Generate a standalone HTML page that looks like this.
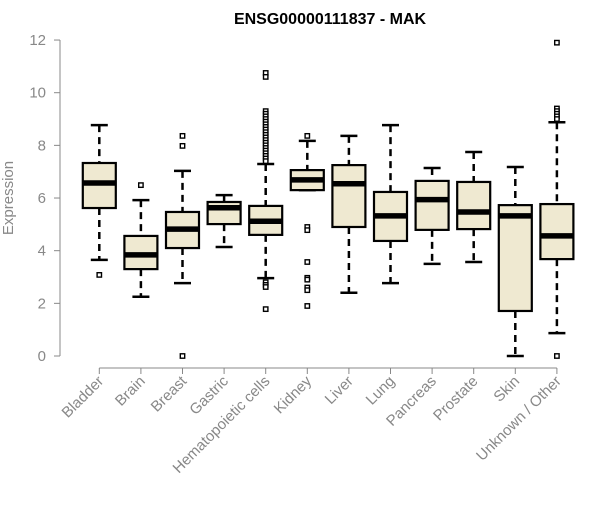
<!DOCTYPE html>
<html><head><meta charset="utf-8"><style>body{margin:0;background:#fff}</style></head>
<body>
<svg id="c" width="600" height="500" xmlns="http://www.w3.org/2000/svg" font-family="Liberation Sans, sans-serif"></svg>
<script>
const categories=["Bladder","Brain","Breast","Gastric","Hematopoietic cells","Kidney","Liver","Lung","Pancreas","Prostate","Skin","Unknown / Other"];
const lowerWhisker=[3.65,2.25,2.77,4.14,2.96,6.3,2.4,2.77,3.5,3.57,0.0,0.87];
const q1=[5.62,3.3,4.1,5.01,4.6,6.3,4.9,4.37,4.79,4.82,1.71,3.68];
const median=[6.57,3.84,4.82,5.63,5.12,6.69,6.54,5.32,5.94,5.47,5.32,4.56];
const q3=[7.33,4.56,5.47,5.85,5.7,7.06,7.25,6.23,6.65,6.61,5.73,5.77];
const upperWhisker=[8.77,5.92,7.03,6.11,7.29,8.17,8.36,8.77,7.14,7.75,7.18,8.88];
const outliers=[[3.08],[6.49],[8.36,7.98,0.0],[],
 [10.75,10.6,9.3,9.2,9.1,9.0,8.9,8.8,8.7,8.6,8.5,8.4,8.3,8.2,8.1,8.0,7.9,7.8,7.7,7.6,7.5,7.4,2.8,2.7,2.62,1.78],
 [8.36,4.9,4.78,3.57,2.97,2.9,2.6,2.5,1.9],[],[],[],[],[],[11.9,9.4,9.3,9.2,9.1,9.0,0.0]];
const yTicks=[0,2,4,6,8,10,12];
const NS="http://www.w3.org/2000/svg";
const svg=document.getElementById('c');
const y=v=>356-v*26.33;
const x=i=>99.3+i*41.6;
function mk(t,a,parent){const e=document.createElementNS(NS,t);for(const k in a)e.setAttribute(k,a[k]);(parent||svg).appendChild(e);return e;}
let t=mk('text',{x:330,y:24,'text-anchor':'middle','font-size':16,'font-weight':'bold',fill:'#000'});t.textContent="ENSG00000111837 - MAK";


let ya=mk('line',{x1:60,y1:y(0),x2:60,y2:y(12),stroke:'#888','stroke-width':1});


yTicks.forEach(v=>{
 const l=mk('line',{x1:54,x2:60,y1:y(v),y2:y(v),stroke:'#888'});
 
 
 const tx=mk('text',{x:46,y:y(v)+5,'text-anchor':'end','font-size':15,fill:'#888'});tx.textContent=v;
 
 
});
let yt=mk('text',{x:0,y:0,transform:'translate(13,198) rotate(-90)','text-anchor':'middle','font-size':15,fill:'#888'});yt.textContent="Expression";


let xa=mk('line',{x1:x(0),x2:x(11),y1:368,y2:368,stroke:'#888'});


categories.forEach((c,i)=>{
 const cx=x(i);
 const g=mk('g',{});
 
 
 const tk=mk('line',{x1:cx,x2:cx,y1:368,y2:374,stroke:'#888'});
 
 
 const lb=mk('text',{x:0,y:0,transform:`translate(${cx+5},382) rotate(-45)`,'text-anchor':'end','font-size':15,fill:'#888'});lb.textContent=c;
 
 
 mk('line',{x1:cx,x2:cx,y1:y(upperWhisker[i]),y2:y(q3[i]),stroke:'#000','stroke-width':2.5,'stroke-dasharray':'7,5'},g);
 mk('line',{x1:cx,x2:cx,y1:y(q1[i]),y2:y(lowerWhisker[i]),stroke:'#000','stroke-width':2.5,'stroke-dasharray':'7,5'},g);
 mk('line',{x1:cx-8.5,x2:cx+8.5,y1:y(upperWhisker[i]),y2:y(upperWhisker[i]),stroke:'#000','stroke-width':2.5},g);
 mk('line',{x1:cx-8.5,x2:cx+8.5,y1:y(lowerWhisker[i]),y2:y(lowerWhisker[i]),stroke:'#000','stroke-width':2.5},g);
 mk('rect',{x:cx-16.5,y:y(q3[i]),width:33,height:Math.max(1,y(q1[i])-y(q3[i])),fill:'#efe9d1',stroke:'#000','stroke-width':2.2},g);
 mk('line',{x1:cx-16.5,x2:cx+16.5,y1:y(median[i]),y2:y(median[i]),stroke:'#000','stroke-width':5.5},g);
 outliers[i].forEach(v=>mk('rect',{x:cx-2.2,y:y(v)-2.2,width:4.4,height:4.4,fill:'#fff',stroke:'#000','stroke-width':1.4},g));
});
</script>
</body></html>
